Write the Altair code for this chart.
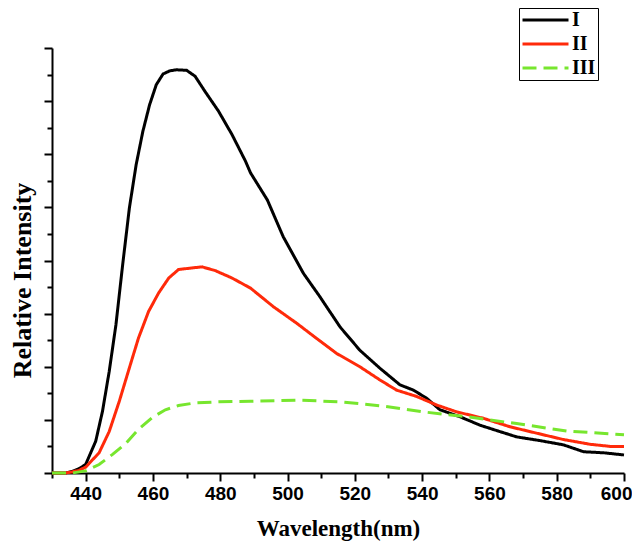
import altair as alt
import pandas as pd

# Readings from the reference (wavelength in nm, relative intensity in tick units)
wl_I = [430, 434, 436, 438, 440, 443, 445, 447, 449, 451, 453, 455, 457, 459, 461, 463,
        465, 467, 470, 472.5, 475.5, 479.5, 483.5, 487.5, 489, 494, 498.7, 504.7, 509.6,
        515.6, 521.5, 527.5, 533.4, 537.4, 541.3, 545.3, 551.2, 557.2, 563.1, 568.1, 575,
        582, 588, 594, 600]
val_I = [0, 0, 0.03, 0.08, 0.16, 0.6, 1.16, 1.91, 2.79, 3.92, 4.99, 5.80, 6.43, 6.93, 7.31, 7.51,
         7.57, 7.59, 7.58, 7.47, 7.18, 6.81, 6.37, 5.87, 5.65, 5.14, 4.45, 3.76, 3.32,
         2.75, 2.31, 1.97, 1.66, 1.56, 1.41, 1.19, 1.06, 0.90, 0.78, 0.68, 0.61,
         0.53, 0.40, 0.38, 0.34]

wl_II = [430, 434, 436, 438, 440, 444, 447, 450, 453, 455.7, 458.7, 461.7, 464.7, 467.6, 471.6,
         474.6, 478.5, 483.5, 489, 495.8, 502.7, 508.7, 514.6, 521.5, 527.5, 532.4, 538.4,
         544.3, 550.3, 558.2, 566.1, 574, 582, 590, 596, 600]
val_II = [0, 0, 0.02, 0.05, 0.11, 0.38, 0.78, 1.35, 1.98, 2.54, 3.04, 3.39, 3.67, 3.83, 3.86,
          3.88, 3.81, 3.67, 3.48, 3.13, 2.82, 2.53, 2.25, 2.00, 1.75, 1.56, 1.44,
          1.28, 1.15, 1.03, 0.87, 0.75, 0.63, 0.54, 0.50, 0.50]

wl_III = [430, 436, 440, 444, 448, 452, 455.7, 459.7, 463.7, 467.6, 472.6, 479.5, 489,
          503.7, 515.6, 528.5, 540.4, 553.2, 568.1, 583, 600]
val_III = [0, 0, 0.04, 0.16, 0.35, 0.56, 0.82, 1.04, 1.19, 1.27, 1.32, 1.34, 1.35,
           1.37, 1.34, 1.26, 1.15, 1.06, 0.93, 0.79, 0.72]

series_names = ["I", "II", "III"]
series_colors = ["#000000", "#ff2a0a", "#77e62e"]
series_dash = [[1, 0], [1, 0], [14, 7]]

x_ticks = list(range(430, 601, 10))
y_ticks = [i * 0.5 for i in range(17)]

rows = []
for name, wls, vals in [("I", wl_I, val_I), ("II", wl_II, val_II), ("III", wl_III, val_III)]:
    for w, v in zip(wls, vals):
        rows.append({"series": name, "wavelength": w, "intensity": v})
df = pd.DataFrame(rows)

legend = alt.Legend(
    title=None, orient="none", legendX=467, legendY=-40,
    strokeColor="black", fillColor="white", padding=2,
    symbolType="stroke", symbolSize=2116, symbolStrokeWidth=3,
    clipHeight=20, rowPadding=4, labelOffset=2,
    labelFont="Liberation Serif", labelFontWeight="bold", labelFontSize=20,
    labelColor="black",
)

chart = alt.Chart(df).mark_line(strokeWidth=3).encode(
    x=alt.X("wavelength:Q",
            scale=alt.Scale(domain=[430, 600], nice=False, zero=False),
            axis=alt.Axis(
                title="Wavelength(nm)", values=x_ticks,
                labelExpr="datum.value % 20 == 0 ? datum.label : ''",
                tickSize={"condition": {"test": "datum.value % 20 == 0", "value": 8}, "value": 5},
                tickWidth=2, domainWidth=2, domainColor="black", tickColor="black",
                labelFont="Liberation Sans", labelFontWeight="bold", labelFontSize=19,
                labelColor="black", labelPadding=3, labelFlush=True, labelFlushOffset=8,
                titleFont="Liberation Serif", titleFontWeight="bold", titleFontSize=23,
                titleColor="black", titlePadding=14, grid=False)),
    y=alt.Y("intensity:Q",
            scale=alt.Scale(domain=[0, 8], nice=False),
            axis=alt.Axis(
                title="Relative Intensity", values=y_ticks, labels=False,
                tickSize={"condition": {"test": "datum.value % 1 == 0", "value": 8}, "value": 5},
                tickWidth=2, domainWidth=2, domainColor="black", tickColor="black",
                titleFont="Liberation Serif", titleFontWeight="bold", titleFontSize=26,
                titleColor="black", titlePadding=8, titleY=232, grid=False)),
    color=alt.Color("series:N", scale=alt.Scale(domain=series_names, range=series_colors),
                    legend=legend),
    strokeDash=alt.StrokeDash("series:N", scale=alt.Scale(domain=series_names, range=series_dash),
                              legend=legend),
    order=alt.Order("wavelength:Q"),
).properties(
    width=572, height=425,
    autosize=alt.AutoSizeParams(type="none"),
    padding={"left": 44, "top": 40, "right": 8, "bottom": 68},
).configure_view(stroke=None)

chart.save("out.html", embed_options={"renderer": "svg", "actions": False})
